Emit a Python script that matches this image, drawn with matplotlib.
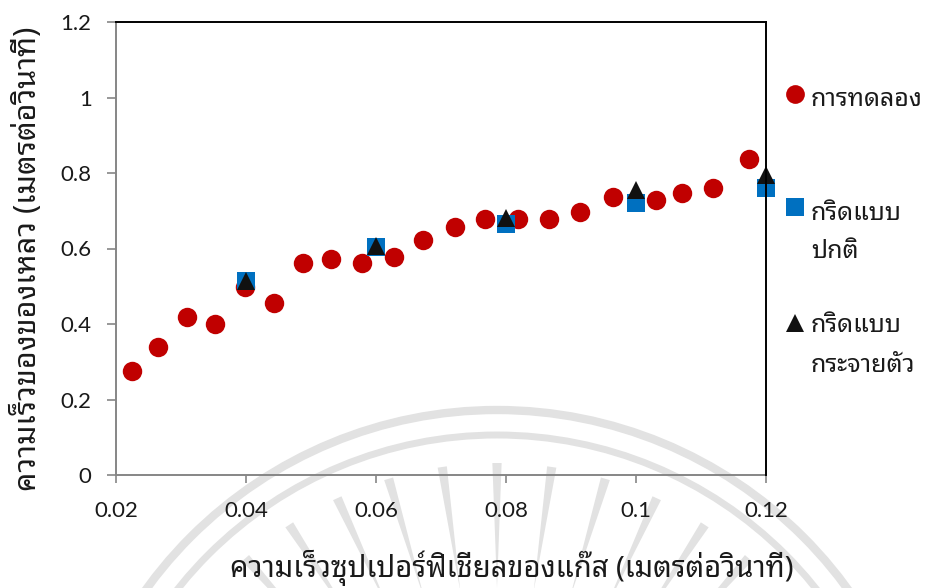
import numpy as np
import matplotlib
matplotlib.use("Agg")
import matplotlib.pyplot as plt
from matplotlib.lines import Line2D
from matplotlib.patches import Arc, Polygon

# Experimental liquid velocity vs. gas superficial velocity
exp_x = [0.0225, 0.0265, 0.0309, 0.0352, 0.0398, 0.0443, 0.0487, 0.0531, 0.0579,
         0.0627, 0.0673, 0.0721, 0.0768, 0.0818, 0.0866, 0.0914, 0.0965, 0.1031,
         0.1071, 0.1118, 0.1174]
exp_y = [0.276, 0.338, 0.418, 0.399, 0.498, 0.455, 0.562, 0.573, 0.561,
         0.578, 0.623, 0.657, 0.678, 0.679, 0.677, 0.698, 0.736, 0.728,
         0.748, 0.761, 0.836]

# Simulation results on two grid types
grid_x = [0.04, 0.06, 0.08, 0.10, 0.12]
uniform_y = [0.515, 0.603, 0.664, 0.720, 0.761]
stretched_y = [0.514, 0.607, 0.681, 0.754, 0.795]

series_labels = ["การทดลอง", "กริดแบบ\nปกติ", "กริดแบบ\nกระจายตัว"]
x_label = "ความเร็วซุปเปอร์ฟิเชียลของแก๊ส (เมตรต่อวินาที)"
y_label = "ความเร็วของของเหลว (เมตรต่อวินาที)"
x_ticks = [0.02, 0.04, 0.06, 0.08, 0.10, 0.12]
x_tick_labels = ["0.02", "0.04", "0.06", "0.08", "0.1", "0.12"]
y_ticks = [0, 0.2, 0.4, 0.6, 0.8, 1.0, 1.2]
y_tick_labels = ["0", "0.2", "0.4", "0.6", "0.8", "1", "1.2"]

RED = "#C00000"
BLUE = "#0070C0"
BLACK = "#111111"
AXIS_GREY = "#868686"
TEXT = "#1a1a1a"
THAI = ["Noto Sans Thai Looped", "Noto Sans", "DejaVu Sans"]
NUM = ["Lato", "DejaVu Sans"]

W, H = 926, 588
fig = plt.figure(figsize=(W / 100, H / 100), dpi=100)

# Faint seal watermark in the background (pixel coordinates)
bg = fig.add_axes([0, 0, 1, 1], zorder=-10)
bg.set_xlim(0, W)
bg.set_ylim(H, 0)
bg.axis("off")
wm = "#e2e2e2"
cx, cy = 497, 843
for r, lw in [(433, 6), (408, 5)]:
    bg.add_patch(Arc((cx, cy), 2 * r, 2 * r, theta1=180, theta2=360,
                     color=wm, lw=lw, zorder=0))
for ang in np.linspace(212, 328, 15):
    a = np.deg2rad(ang)
    da = np.deg2rad(0.7)
    r0, r1 = 255, 380
    pts = [(cx + r0 * np.cos(a), cy + r0 * np.sin(a)),
           (cx + r1 * np.cos(a - da), cy + r1 * np.sin(a - da)),
           (cx + r1 * np.cos(a + da), cy + r1 * np.sin(a + da))]
    bg.add_patch(Polygon(pts, closed=True, color=wm, lw=0, zorder=0))

ax = fig.add_axes([116 / W, 1 - 475 / H, 650 / W, 453 / H])
ax.patch.set_alpha(0)
ax.set_xlim(0.02, 0.12)
ax.set_ylim(0, 1.2)

ax.plot(exp_x, exp_y, ls="none", marker="o", ms=14, color=RED, mew=0,
        clip_on=False, zorder=3)
ax.plot(grid_x, uniform_y, ls="none", marker="s", ms=13.5, color=BLUE, mew=0,
        clip_on=False, zorder=4)
ax.plot(grid_x, stretched_y, ls="none", marker="^", ms=13.5, color=BLACK, mew=0,
        clip_on=False, zorder=5)

for side in ["top", "right"]:
    ax.spines[side].set_color("black")
    ax.spines[side].set_linewidth(1.4)
for side in ["left", "bottom"]:
    ax.spines[side].set_color(AXIS_GREY)
    ax.spines[side].set_linewidth(1.4)
ax.spines["right"].set_zorder(6)

ax.set_xticks(x_ticks)
ax.set_xticklabels(x_tick_labels, family=NUM, fontsize=16)
ax.set_yticks(y_ticks)
ax.set_yticklabels(y_tick_labels, family=NUM, fontsize=16)
ax.tick_params(axis="x", direction="out", length=6, width=1.2, color=AXIS_GREY,
               pad=13, labelcolor=TEXT)
ax.tick_params(axis="y", direction="out", length=6.5, width=1.2, color=AXIS_GREY,
               pad=11, labelcolor=TEXT)

fig.text(512 / W, 1 - 577 / H, x_label, family=THAI, fontsize=21,
         ha="center", va="baseline", color=TEXT)
fig.text(27 / W, 1 - 259 / H, y_label, family=THAI, fontsize=22,
         rotation=90, ha="center", va="center", color=TEXT)

# Legend drawn beside the plot
leg_items = [
    ("o", RED, 13.5, 94, [(series_labels[0], 99)]),
    ("s", BLUE, 12.5, 207, [(series_labels[1].split("\n")[0], 213),
                            (series_labels[1].split("\n")[1], 251)]),
    ("^", BLACK, 12.5, 323, [(series_labels[2].split("\n")[0], 326),
                             (series_labels[2].split("\n")[1], 365)]),
]
for mk, col, ms, my, lines in leg_items:
    fig.add_artist(Line2D([795 / W], [1 - my / H], marker=mk, ms=ms, color=col,
                          mew=0, ls="none", transform=fig.transFigure))
    for txt, ty in lines:
        fig.text(811 / W, 1 - ty / H, txt, family=THAI, fontsize=18,
                 ha="left", va="center", color=TEXT)

fig.savefig("out.png", dpi=100)
